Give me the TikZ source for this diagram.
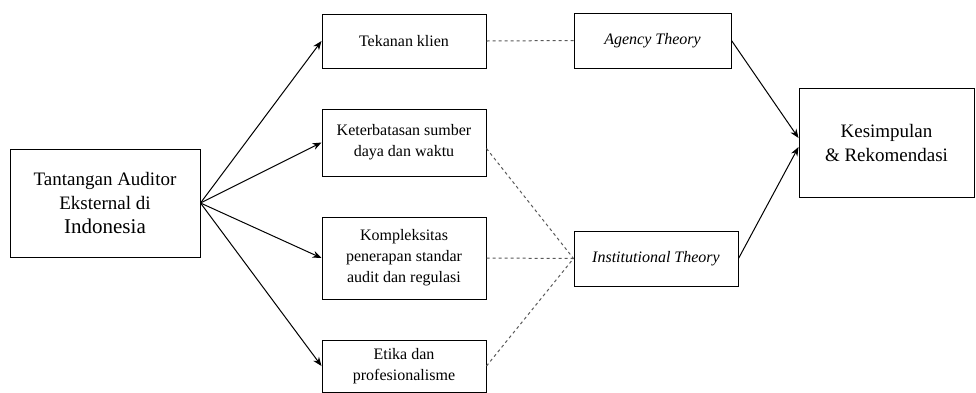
\documentclass[tikz,border=0pt]{standalone}
\usepackage{fontspec}
\setmainfont{Liberation Serif}
\newfontfamily\tnr{Liberation Serif}
\usetikzlibrary{arrows.meta}
\begin{document}
\begin{tikzpicture}[x=1pt,y=-1pt,
  box/.style={draw=black,line width=1pt,align=center,inner sep=2pt,fill=white},
  smallbox/.style={box,font=\tnr\fontsize{16}{21}\selectfont},
  bigbox/.style={box,font=\tnr\fontsize{19}{24}\selectfont},
  arr/.style={line width=1pt,-{Stealth[length=9pt,width=7pt]}},
  dashline/.style={line width=1pt,draw=black!65,dash pattern=on 3pt off 3pt}
]
\useasboundingbox (0,0) rectangle (976,392);
\node[bigbox,minimum width=190pt,minimum height=108pt] (src) at (105,203)
  {Tantangan Auditor\\Eksternal di\\{\fontsize{21}{25}\selectfont Indonesia}};
\node[smallbox,minimum width=164pt,minimum height=54pt] (tek) at (404,41) {Tekanan klien};
\node[smallbox,minimum width=164pt,minimum height=67pt] (ket) at (404,142.5) {Keterbatasan sumber\\daya dan waktu};
\node[smallbox,minimum width=164pt,minimum height=82pt] (kom) at (404,258) {Kompleksitas\\penerapan standar\\audit dan regulasi};
\node[smallbox,minimum width=164pt,minimum height=52pt] (eti) at (404,366) {Etika dan\\profesionalisme};
\node[smallbox,minimum width=157pt,minimum height=55pt] (agc) at (652.5,40.5) {\itshape Agency Theory};
\node[smallbox,minimum width=164pt,minimum height=55pt] (ins) at (656,258.5) {\itshape Institutional Theory};
\node[bigbox,minimum width=175pt,minimum height=109pt] (kes) at (886.5,142.5) {Kesimpulan\\\& Rekomendasi};
\draw[arr] (src.east) -- (tek.west);
\draw[arr] (src.east) -- (ket.west);
\draw[arr] (src.east) -- (kom.west);
\draw[arr] (src.east) -- (eti.west);
\draw[dashline] (tek.east) -- (agc.west);
\draw[dashline] ([yshift=-6pt]ket.east) -- (ins.west);
\draw[dashline] (kom.east) -- (ins.west);
\draw[dashline] (eti.east) -- (ins.west);
\draw[arr] (agc.east) -- ([yshift=4.5pt]kes.west);
\draw[arr] (ins.east) -- ([yshift=-4.5pt]kes.west);
\end{tikzpicture}
\end{document}
